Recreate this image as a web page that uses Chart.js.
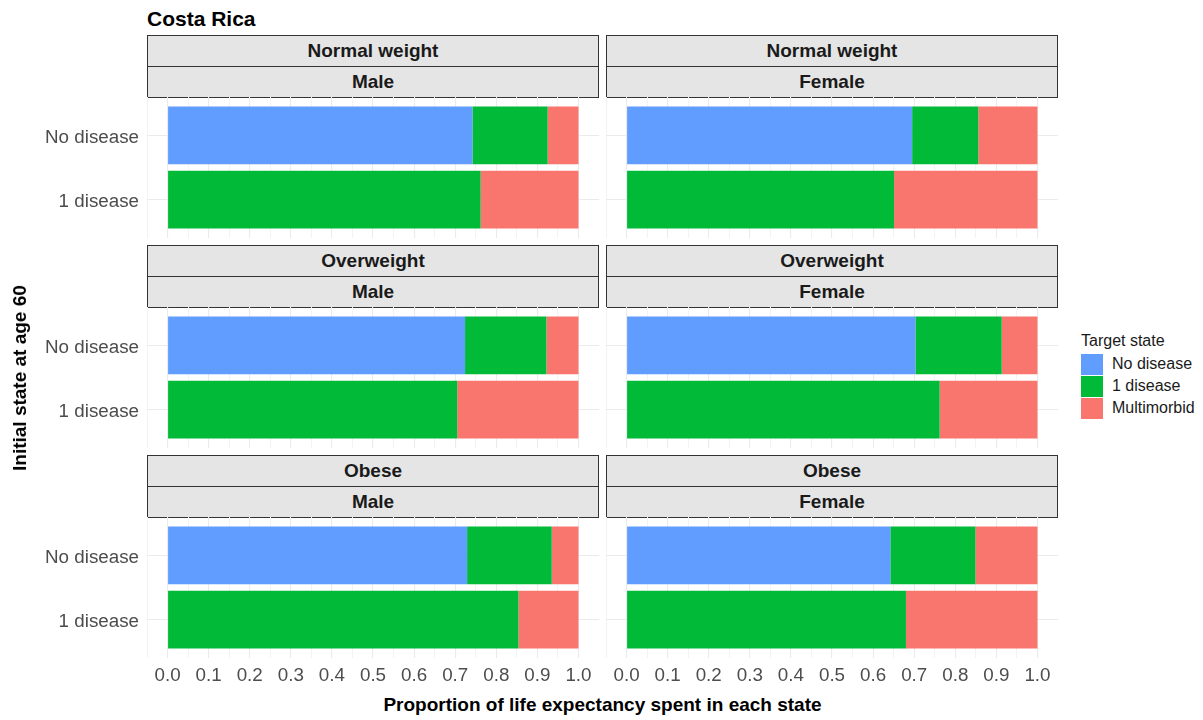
<!DOCTYPE html>
<html>
<head>
<meta charset="utf-8">
<title>Costa Rica – life expectancy by target state</title>
<script src="https://cdn.jsdelivr.net/npm/chart.js@4.4.1/dist/chart.umd.min.js"></script>
<style>
  html, body { margin: 0; padding: 0; background: #fff; }
  body { font-family: "Liberation Sans", Arial, sans-serif; }
  #fig { position: relative; width: 1203px; height: 720px; overflow: hidden; }
  #fig canvas { position: absolute; }
  .strip {
    position: absolute; box-sizing: border-box;
    background: #E5E5E5; border: 1px solid #333333;
    color: #1A1A1A; font-weight: bold; font-size: 19px;
    display: flex; align-items: center; justify-content: center;
  }
  .title { position: absolute; left: 147px; top: 7px; font-size: 21px; font-weight: bold; color: #000; }
  .xtitle { position: absolute; left: 147px; width: 911px; top: 694px; text-align: center;
            font-size: 19px; font-weight: bold; color: #000; }
  .ytitle { position: absolute; left: 20px; top: 378px; transform: translate(-50%, -50%) rotate(-90deg);
            white-space: nowrap; font-size: 19px; font-weight: bold; color: #000; }
  .legend { position: absolute; left: 1081px; top: 331px; color: #1A1A1A; font-size: 16px; }
  .legend .lt { height: 22px; line-height: 20px; }
  .legend .item { display: flex; align-items: center; height: 22px; }
  .legend .key { width: 22px; height: 21px; margin-right: 9px; }
</style>
</head>
<body>
<div id="fig"></div>
<script>
// Facet labels and categories
const bmiGroups = ['Normal weight', 'Overweight', 'Obese'];
const sexes = ['Male', 'Female'];
const initialStates = ['No disease', '1 disease'];
const targetStates = ['No disease', '1 disease', 'Multimorbid'];
const stateColors = ['#619CFF', '#00BA38', '#F8766D'];

// Share of remaining life expectancy, panel order:
// Normal weight (Male, Female), Overweight (Male, Female), Obese (Male, Female)
const fromNoDisease_noDisease   = [0.742, 0.695, 0.724, 0.703, 0.729, 0.642];
const fromNoDisease_oneDisease  = [0.183, 0.161, 0.198, 0.210, 0.206, 0.207];
const fromNoDisease_multimorbid = [0.075, 0.144, 0.078, 0.087, 0.065, 0.151];
const fromOneDisease_oneDisease  = [0.762, 0.651, 0.705, 0.762, 0.854, 0.680];
const fromOneDisease_multimorbid = [0.238, 0.349, 0.295, 0.238, 0.146, 0.320];

// x axis breaks and their labels
const xBreaks = [0, 0.1, 0.2, 0.3, 0.4, 0.5, 0.6, 0.7, 0.8, 0.9, 1.0];
const xBreakLabels = ['0.0', '0.1', '0.2', '0.3', '0.4', '0.5', '0.6', '0.7', '0.8', '0.9', '1.0'];

Chart.defaults.font.family = '"Liberation Sans", Arial, sans-serif';

const fig = document.getElementById('fig');

// Layout of the facet grid
const colLeft = [147, 606];
const panelWidth = 452;
const rowTop = [35, 245, 455];
const stripH = 31;
const panelH = 141;
const yAxisWidth = 147;
const xAxisHeight = 36;

// minor breaks halfway between majors, extended half a step past each end
const step = xBreaks[1] - xBreaks[0];
const gridValues = [];
for (let i = 0; i < xBreaks.length; i++) {
  if (i === 0) gridValues.push(xBreaks[0] - step / 2);
  gridValues.push(xBreaks[i]);
  gridValues.push(xBreaks[i] + step / 2);
}
const isMajor = v => xBreaks.some(b => Math.abs(b - v) < 1e-9);
const labelFor = v => {
  const i = xBreaks.findIndex(b => Math.abs(b - v) < 1e-9);
  return i >= 0 ? xBreakLabels[i] : '';
};

function addText(cls, text, style) {
  const d = document.createElement('div');
  d.className = cls;
  d.textContent = text;
  Object.assign(d.style, style || {});
  fig.appendChild(d);
  return d;
}

function makePanel(row, col) {
  const p = row * 2 + col;
  const left = colLeft[col];
  const top = rowTop[row];

  addText('strip', bmiGroups[row], { left: left + 'px', top: top + 'px', width: panelWidth + 'px', height: (stripH + 1) + 'px' });
  addText('strip', sexes[col], { left: left + 'px', top: (top + stripH) + 'px', width: panelWidth + 'px', height: (stripH + 1) + 'px' });

  const showY = col === 0;
  const showX = row === bmiGroups.length - 1;
  const canvas = document.createElement('canvas');
  const cLeft = showY ? left - yAxisWidth : left;
  const cWidth = showY ? panelWidth + yAxisWidth : panelWidth;
  const cTop = top + 2 * stripH;
  const cHeight = panelH + (showX ? xAxisHeight : 0);
  canvas.width = cWidth; canvas.height = cHeight;
  canvas.style.left = cLeft + 'px'; canvas.style.top = cTop + 'px';
  canvas.style.width = cWidth + 'px'; canvas.style.height = cHeight + 'px';
  fig.appendChild(canvas);

  const series = [
    [fromNoDisease_noDisease[p], null],
    [fromNoDisease_oneDisease[p], fromOneDisease_oneDisease[p]],
    [fromNoDisease_multimorbid[p], fromOneDisease_multimorbid[p]]
  ];

  new Chart(canvas, {
    type: 'bar',
    data: {
      datasets: targetStates.map((name, s) => ({
        label: name,
        data: series[s].map((v, i) => ({ x: v, y: i })),
        backgroundColor: stateColors[s],
        borderWidth: 0,
        barPercentage: 0.9,
        categoryPercentage: 1.0
      }))
    },
    options: {
      indexAxis: 'y',
      responsive: false,
      devicePixelRatio: 1,
      animation: false,
      layout: { padding: 0 },
      plugins: { legend: { display: false }, tooltip: { enabled: false }, title: { display: false } },
      scales: {
        x: {
          type: 'linear', min: -0.05, max: 1.05, stacked: true, offset: false,
          border: { display: false },
          grid: {
            offset: false,
            drawTicks: false,
            color: ctx => isMajor(ctx.tick.value) ? '#EBEBEB' : '#F3F3F3',
            lineWidth: ctx => isMajor(ctx.tick.value) ? 1.1 : 1
          },
          afterBuildTicks: s => { s.ticks = gridValues.map(v => ({ value: v })); },
          ticks: {
            display: showX, autoSkip: false, maxRotation: 0, padding: 7,
            color: '#4D4D4D', font: { size: 18.8 },
            callback: v => labelFor(v)
          },
          afterFit: s => { s.height = showX ? xAxisHeight : 0; s.paddingLeft = 0; s.paddingRight = 0; }
        },
        y: {
          type: 'linear', min: -0.6, max: initialStates.length - 0.4, reverse: true, stacked: true, offset: false,
          border: { display: false },
          grid: { offset: false, drawTicks: false, color: '#EBEBEB', lineWidth: 1.1 },
          afterBuildTicks: s => { s.ticks = initialStates.map((_, i) => ({ value: i })); },
          ticks: {
            display: showY, autoSkip: false, padding: 8, labelOffset: 2.5,
            color: '#4D4D4D', font: { size: 18.8 },
            callback: v => initialStates[v]
          },
          afterFit: s => { s.width = showY ? yAxisWidth : 0; s.paddingTop = 0; s.paddingBottom = 0; }
        }
      }
    }
  });
}

for (let r = 0; r < bmiGroups.length; r++) {
  for (let c = 0; c < sexes.length; c++) makePanel(r, c);
}

addText('title', 'Costa Rica');
addText('xtitle', 'Proportion of life expectancy spent in each state');
addText('ytitle', 'Initial state at age 60');

// Legend for the target states
const legend = document.createElement('div');
legend.className = 'legend';
const lt = document.createElement('div');
lt.className = 'lt';
lt.textContent = 'Target state';
legend.appendChild(lt);
targetStates.forEach((name, i) => {
  const item = document.createElement('div');
  item.className = 'item';
  const key = document.createElement('div');
  key.className = 'key';
  key.style.background = stateColors[i];
  const lab = document.createElement('span');
  lab.textContent = name;
  item.appendChild(key); item.appendChild(lab);
  legend.appendChild(item);
});
fig.appendChild(legend);
</script>
</body>
</html>
